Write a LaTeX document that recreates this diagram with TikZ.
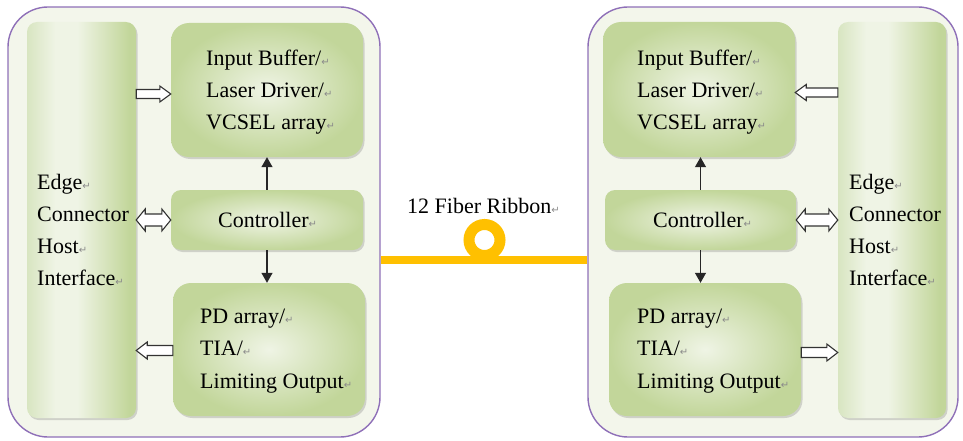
\documentclass[tikz,border=0pt]{standalone}
\usepackage{fontspec}
\setmainfont{Liberation Serif}
\newfontfamily\symfont{DejaVu Sans}
\usetikzlibrary{arrows.meta,shadows,calc}

\definecolor{framepurple}{HTML}{8F70B8}
\definecolor{panelfill}{HTML}{F3F6EB}
\definecolor{greendark}{HTML}{C2D69A}
\definecolor{greenmid}{HTML}{D8E5C1}
\definecolor{greenlight}{HTML}{EFF4E5}
\definecolor{fibergold}{HTML}{FFC000}
\definecolor{markgray}{HTML}{8A8A8A}
\definecolor{arrowgray}{HTML}{333333}

% light band left of centre, darker green towards the right edge
% (only the 25bp..75bp part of a shading is spread over the path)
\pgfdeclarehorizontalshading{edgeshade}{100bp}{color(0bp)=(greenmid); color(25bp)=(greenmid); color(38bp)=(greenlight); color(48bp)=(greenlight); color(72bp)=(greendark); color(100bp)=(greendark)}

% paragraph mark after each line
\newcommand\retmark{{\symfont\fontsize{10}{10}\selectfont\textcolor{markgray}{↵}}}

% hollow block arrow: #1 start, #2 tip, #3 half shaft, #4 half head, #5 head length
\newcommand\hollowarrow[5]{%
  \draw[hollowbox] let \p1=#1, \p2=#2, \n1={ifthenelse(\x2>\x1,1,-1)} in
    (\x1,{\y1+#3}) -- ({\x2-(\n1)*#5},{\y1+#3}) -- ({\x2-(\n1)*#5},{\y1+#4})
    -- (\x2,\y1) -- ({\x2-(\n1)*#5},{\y1-#4}) -- ({\x2-(\n1)*#5},{\y1-#3})
    -- (\x1,{\y1-#3}) -- cycle;}
% hollow double-headed block arrow, same arguments
\newcommand\hollowtwoway[5]{%
  \draw[hollowbox] let \p1=#1, \p2=#2, \n1={ifthenelse(\x2>\x1,1,-1)} in
    (\x1,\y1) -- ({\x1+(\n1)*#5},{\y1+#4}) -- ({\x1+(\n1)*#5},{\y1+#3})
    -- ({\x2-(\n1)*#5},{\y1+#3}) -- ({\x2-(\n1)*#5},{\y1+#4}) -- (\x2,\y1)
    -- ({\x2-(\n1)*#5},{\y1-#4}) -- ({\x2-(\n1)*#5},{\y1-#3})
    -- ({\x1+(\n1)*#5},{\y1-#3}) -- ({\x1+(\n1)*#5},{\y1-#4}) -- cycle;}

\tikzset{
  panel/.style={draw=framepurple, line width=1.4pt, fill=panelfill,
    rounded corners=40pt, inner sep=0pt},
  block/.style={rounded corners=#1, inner sep=0pt,
    inner color=greenlight, outer color=greendark,
    drop shadow={shadow xshift=1.5pt, shadow yshift=-2pt, opacity=0.25, fill=black!60}},
  block/.default=18pt,
  edgeblock/.style={block=10pt, shading=edgeshade},
  txt/.style={inner sep=0pt, align=left, anchor=west,
    font=\fontsize{22}{32.3}\selectfont},
  hollowbox/.style={draw=arrowgray, line width=1.1pt, fill=white, line join=miter},
  ctrlarrow/.style={draw=black!85, line width=1.2pt, -{Triangle[length=10pt,width=11pt]}},
  fiber/.style={draw=fibergold, line width=8pt},
  label/.style={font=\fontsize{22}{30}\selectfont}
}

\begin{document}
\begin{tikzpicture}[x=1pt, y=-1pt]
\useasboundingbox (0,0) rectangle (963,441);

% ---------- left transceiver ----------
\node[panel, minimum width=372pt, minimum height=430pt] (outerL) at (194,222) {};
\node[edgeblock, minimum width=109pt, minimum height=396pt] (edgeL) at (81.5,220) {};
\node[block, minimum width=192pt, minimum height=134pt] (inL) at (267,90) {};
\node[block=10pt, minimum width=192pt, minimum height=60pt] (ctrlL) at (267,220) {};
\node[block, minimum width=192pt, minimum height=133pt] (pdL) at (269,349.5) {};

\node[txt] (edgeLtext) at (37,230) {Edge\retmark\\Connector\\Host\retmark\\Interface\retmark};
\node[txt] (inLtext) at (206,92) {Input Buffer/\retmark\\Laser Driver/\retmark\\VCSEL array\retmark};
\node[txt] (ctrlLtext) at (218,220) {Controller\retmark};
\node[txt] (pdLtext) at (200,351) {PD array/\retmark\\TIA/\retmark\\Limiting Output\retmark};

\draw[ctrlarrow] (ctrlL.north) -- (ctrlL.north |- inL.south);
\draw[ctrlarrow] (ctrlL.south) -- (ctrlL.south |- pdL.north);
\hollowarrow{([yshift=-4pt]edgeL.east |- inL)}{([yshift=-4pt]inL.west)}{4.5pt}{8pt}{11pt}
\hollowtwoway{(edgeL.east |- ctrlL)}{(ctrlL.west)}{6pt}{11pt}{9pt}
\hollowarrow{([yshift=-1pt]pdL.west)}{([yshift=-1pt]edgeL.east |- pdL)}{5pt}{8.5pt}{11pt}

% ---------- right transceiver ----------
\node[panel, minimum width=370pt, minimum height=430pt] (outerR) at (773,222) {};
\node[edgeblock, minimum width=108pt, minimum height=396pt] (edgeR) at (892,220) {};
\node[block, minimum width=192pt, minimum height=135pt] (inR) at (699,89.5) {};
\node[block=10pt, minimum width=191pt, minimum height=60pt] (ctrlR) at (700.5,220) {};
\node[block, minimum width=192pt, minimum height=133pt] (pdR) at (705,349.5) {};

\node[txt] (edgeRtext) at (849,230) {Edge\retmark\\Connector\\Host\retmark\\Interface\retmark};
\node[txt] (inRtext) at (637,92) {Input Buffer/\retmark\\Laser Driver/\retmark\\VCSEL array\retmark};
\node[txt] (ctrlRtext) at (653,220) {Controller\retmark};
\node[txt] (pdRtext) at (637,351) {PD array/\retmark\\TIA/\retmark\\Limiting Output\retmark};

\draw[ctrlarrow] (ctrlR.north) -- (ctrlR.north |- inR.south);
\draw[ctrlarrow] (ctrlR.south) -- (ctrlR.south |- pdR.north);
\hollowarrow{([yshift=-3pt]edgeR.west |- inR)}{([yshift=-3pt]inR.east)}{4.5pt}{8pt}{11pt}
\hollowtwoway{(edgeR.west |- ctrlR)}{(ctrlR.east)}{6pt}{11pt}{9pt}
\hollowarrow{([yshift=-3pt]pdR.east)}{([yshift=-3pt]edgeR.west |- pdR)}{5pt}{8.5pt}{11pt}

% ---------- fiber ribbon ----------
\coordinate (fiberlevel) at (0,260);
\coordinate (loop) at (484.5,240);
\draw[fiber] (outerL.east |- fiberlevel) -- (outerR.west |- fiberlevel);
\draw[fiber, line width=11pt] (loop) circle[radius=15.5pt];
\node[label, anchor=base] (fiberlabel) at (483.5,213) {12 Fiber Ribbon\retmark};
\end{tikzpicture}
\end{document}
